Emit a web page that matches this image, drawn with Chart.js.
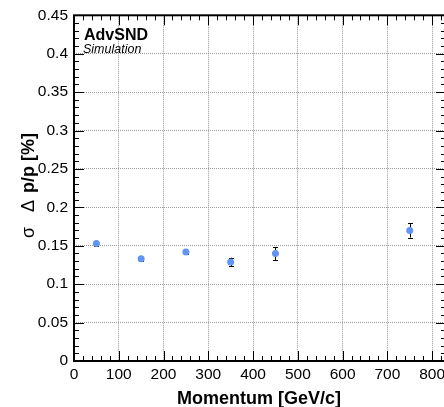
<!DOCTYPE html>
<html>
<head>
<meta charset="utf-8">
<script src="https://cdn.jsdelivr.net/npm/chart.js@4.4.1/dist/chart.umd.min.js"></script>
<style>
html,body{margin:0;padding:0;background:#fff;overflow:hidden;}
#wrap{width:444px;height:407px;overflow:hidden;}
canvas{display:block;}
</style>
</head>
<body>
<div id="wrap"><canvas id="c" width="454" height="407"></canvas></div>
<script>
// Data
const momentum = [50, 150, 250, 350, 450, 750];           // GeV/c
const resolution = [0.153, 0.133, 0.142, 0.129, 0.140, 0.170]; // sigma(dp/p) [%]
const resolutionErr = [0.003, 0.003, 0.003, 0.0056, 0.0086, 0.0094];
const xTickValues = [0, 100, 200, 300, 400, 500, 600, 700, 800];
const yTickValues = [0, 0.05, 0.1, 0.15, 0.2, 0.25, 0.3, 0.35, 0.4, 0.45];

const FONT = "'Liberation Sans', Arial, Helvetica, sans-serif";

const points = momentum.map((x, i) => ({x: x, y: resolution[i], err: resolutionErr[i]}));

const rootStyle = {
  id: 'rootStyle',
  beforeDatasetsDraw(chart) {
    const ctx = chart.ctx, xs = chart.scales.x, ys = chart.scales.y;
    ctx.save();
    ctx.strokeStyle = '#000';
    ctx.lineWidth = 1;
    points.forEach(p => {
      const px = Math.round(xs.getPixelForValue(p.x)) + 0.5;
      const y1 = ys.getPixelForValue(p.y - p.err);
      const y2 = ys.getPixelForValue(p.y + p.err);
      ctx.beginPath();
      ctx.moveTo(px, y1); ctx.lineTo(px, y2);
      ctx.moveTo(px - 2.5, Math.round(y1) + 0.5); ctx.lineTo(px + 2.5, Math.round(y1) + 0.5);
      ctx.moveTo(px - 2.5, Math.round(y2) + 0.5); ctx.lineTo(px + 2.5, Math.round(y2) + 0.5);
      ctx.stroke();
    });
    ctx.restore();
  },
  afterDraw(chart) {
    const ctx = chart.ctx, xs = chart.scales.x, ys = chart.scales.y, a = chart.chartArea;
    ctx.save();
    // ticks (inward, mirrored)
    ctx.strokeStyle = '#000';
    ctx.lineWidth = 1;
    ctx.beginPath();
    for (let v = 0; v <= xs.max; v += 20) {
      const px = Math.round(xs.getPixelForValue(v)) + 0.5;
      const len = (v % 100 === 0) ? 10 : 5;
      ctx.moveTo(px, a.bottom); ctx.lineTo(px, a.bottom - len);
      ctx.moveTo(px, a.top); ctx.lineTo(px, a.top + len);
    }
    for (let k = 0; k <= 45; k++) {
      const py = Math.round(ys.getPixelForValue(k / 100)) + 0.5;
      const len = (k % 5 === 0) ? 10 : 5;
      ctx.moveTo(a.left, py); ctx.lineTo(a.left + len, py);
      ctx.moveTo(a.right, py); ctx.lineTo(a.right - len, py);
    }
    ctx.stroke();
    // frame
    ctx.lineWidth = 2;
    ctx.strokeRect(a.left, a.top, a.right - a.left, a.bottom - a.top);
    // labels inside
    ctx.fillStyle = '#000';
    ctx.textAlign = 'left';
    ctx.textBaseline = 'alphabetic';
    ctx.font = 'bold 16px ' + FONT;
    ctx.fillText('AdvSND', 84, 40);
    ctx.font = 'italic 12.5px ' + FONT;
    ctx.fillText('Simulation', 83, 53);
    // x title
    ctx.font = 'bold 18px ' + FONT;
    ctx.fillText('Momentum [GeV/c]', 177, 404);
    // y title (rotated)
    ctx.translate(34, 238);
    ctx.rotate(-Math.PI / 2);
    ctx.font = '18px ' + FONT;
    ctx.fillText('σ', 0, 0);
    ctx.fillText('Δ', 26, 0);
    ctx.font = 'bold 18px ' + FONT;
    ctx.fillText('p/p [%]', 45, 0);
    ctx.restore();
  }
};

new Chart(document.getElementById('c'), {
  type: 'scatter',
  data: {
    datasets: [{
      data: points,
      backgroundColor: 'rgb(98,148,246)',
      borderColor: 'rgb(98,148,246)',
      pointRadius: 3.5,
      pointHoverRadius: 3.5,
      borderWidth: 0
    }]
  },
  options: {
    responsive: false,
    animation: false,
    devicePixelRatio: 1,
    layout: {padding: {top: 12, right: 8, left: 0, bottom: 0}},
    plugins: {legend: {display: false}, tooltip: {enabled: false}},
    scales: {
      x: {
        type: 'linear',
        min: 0, max: 831,
        afterBuildTicks(scale) { scale.ticks = xTickValues.map(v => ({value: v})); },
        afterFit(scale) { scale.height = 46; },
        ticks: {
          color: '#000', padding: 4, maxRotation: 0, autoSkip: false,
          font: {family: FONT, size: 15.5},
          callback: v => String(v)
        },
        grid: {color: '#9a9a9a', lineWidth: 1, drawTicks: false},
        border: {display: false, dash: [1, 1]}
      },
      y: {
        type: 'linear',
        min: 0, max: 0.45,
        afterBuildTicks(scale) { scale.ticks = yTickValues.map(v => ({value: v})); },
        afterFit(scale) { scale.width = 74; },
        ticks: {
          color: '#000', padding: 6, autoSkip: false,
          font: {family: FONT, size: 15.5},
          callback: v => String(+(+v).toFixed(2))
        },
        grid: {color: '#9a9a9a', lineWidth: 1, drawTicks: false},
        border: {display: false, dash: [1, 1]}
      }
    }
  },
  plugins: [rootStyle]
});
</script>
</body>
</html>
